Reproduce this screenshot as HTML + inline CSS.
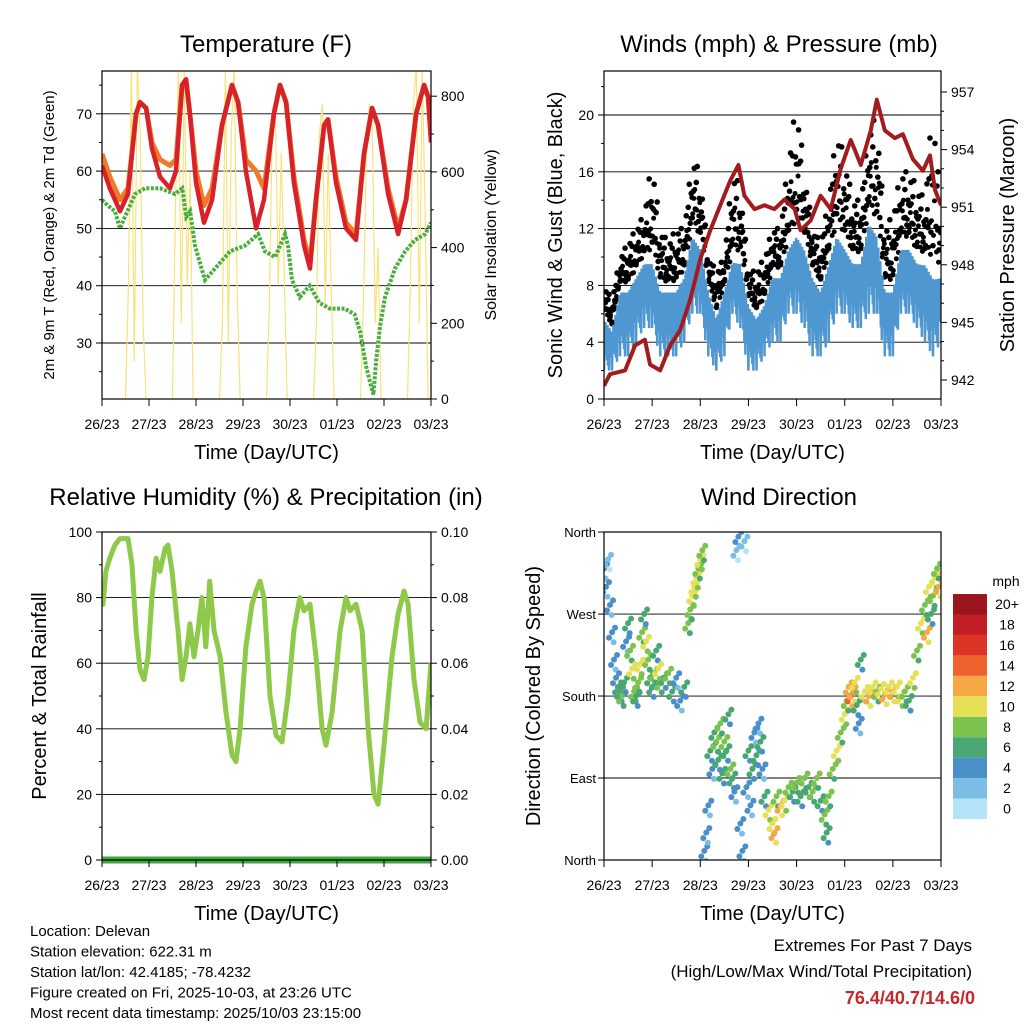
<!DOCTYPE html>
<html><head><meta charset="utf-8"><style>
body{margin:0;background:#fff;}
svg{display:block;font-family:"Liberation Sans",sans-serif;}
</style></head><body>
<svg id="c" width="1024" height="1024" viewBox="0 0 1024 1024"></svg>
<script>
// ---------- DATA ----------
const tempHours=[0,4,9.2,13.3,17.4,19.4,22.5,25.5,29.6,34.7,37.8,40.9,42.9,44.9,48,52.1,56.2,61.3,66.4,69.5,73.5,78.7,82.7,87.8,90.9,94,98,103.2,106.2,109.3,113.4,115.4,119.5,124.6,129.7,133.8,137.9,141,146.1,151.2,155.3,160.4,164.5,166.5,168];
const temp2m=[61,57,53,56,70,72,71,64,59,57,60,75,76,70,58,51,55,68,75,72,60,50,55,70,75,72,58,47,43,55,68,69,58,50,48,63,71,68,56,49,55,70,75,73,65];
const temp9m=[63,59,55,57,70,72,71,65,62,61,62,75,76,70,60,54,57,68,75,72,62,60,57,70,75,72,59,48,44,55,68,69,59,51,49,63,71,68,57,50,55,70,75,73,66];
const dewHours=[0,3,6.6,9.2,11.7,16.9,22,29.6,37.3,41,43,45,47.5,50,52.6,57.7,65.4,73,79.7,83.2,88.4,93.5,95,97,101,106,111,116.4,124,129,131.8,134.8,137,138.6,140,142,144.5,149.6,154.8,159.9,165,168];
const dewVals=[55,54,53,50,52,56,57,57,56,57,52,53,47,44,41,43,46,47,49,46,45,49,47,41,38,40,37,36,36,35,32,26,23,21,27,33,38,43,46,48,49,51];
const solarHourOffsets=[12,13.5,15,16.5,18,19.5,21,22.5];
const solarDays=[[0,300,880,100,880,700,200,0],[0,500,880,200,880,300,600,0],[0,200,880,150,700,880,300,0],[0,250,760,780,300,650,350,0],[0,200,700,780,250,650,300,0],[0,250,650,780,720,200,400,0],[0,300,780,880,200,880,500,0]];
const windHours=[0,4,8,12,16,20,24,28,32,36,40,44,48,52,56,60,64,68,72,76,80,84,88,92,96,100,104,108,112,116,120,124,128,132,136,140,144,148,152,156,160,164,168];
const windLo=[2,2,3,3,4,5,5,3,3,3,4,6,6,3,2,3,6,5,2,2,3,4,4,6,6,5,3,3,4,6,6,5,5,6,6,3,3,6,6,5,4,3,4];
const windHi=[6,5,8,8,9,10,10,8,8,8,9,12,11,8,6,8,10,10,7,6,7,9,9,11,12,11,9,8,10,12,11,10,10,13,12,8,8,11,11,10,10,9,9];
const gustHi=[8,7,10,11,12,13,17,12,11,12,12,17,16,10,9,10,16,15,9,9,10,12,12,17,21,16,12,11,14,19,17,14,14,19,20,12,13,16,16,15,14,21,13];
const presHours=[0,3,10.5,15.5,20.4,23,28,33,38,43,48,53,58,63,67,70,75,80,85,90,95,98,103,108,113,118,123,125,128,133,136,140,145,149,154,159,162.5,165,168];
const presVals=[941.7,942.3,942.5,943.8,944.1,942.8,942.5,943.8,944.6,946.2,948.3,949.8,951.1,952.4,953.2,951.6,950.9,951.1,950.9,951.4,950.9,949.8,950.3,951.6,950.9,953.0,954.5,954.0,953.2,955.0,956.6,955.0,954.6,954.8,953.5,952.9,953.7,951.9,951.1];
const rhHours=[0,0.5,2,4,6.6,9.2,13.3,15.3,17.4,19.4,21.5,23.5,25.5,27.6,29.6,32.2,33.7,35.8,38.8,40.9,42.9,44.9,47,49,51,53,55,57.2,60.3,63.3,66.4,68.4,70.5,73.5,76.6,78.7,80.7,82.7,85.8,88.9,91.9,95,98,101,103.2,106.2,109.3,112.4,114.4,117.5,121.6,124.6,126.7,129.7,132.8,135.9,138.9,141,144,148.1,151.2,154.2,156.3,159.3,162.4,165.5,168];
const rhVals=[80,78,88,92,96,98,98,90,70,58,55,62,80,92,88,95,96,88,70,55,62,72,62,70,80,65,85,70,62,45,32,30,40,65,78,82,85,80,50,38,36,50,70,80,76,78,62,40,35,45,70,80,76,78,70,40,20,17,35,62,75,82,78,55,42,40,60];
const precipVals=[0,0];
const wdHours=[0,1,2,3,4,5,6,7,8,9,10,11,12,13,14,15,16,17,18,19,20,21,22,23,24,25,26,27,28,30,32,34,36,38,40,42,43,44,45,46,47,48,49,50,51,52,53,54,55,56,57,58,59,60,61,62,63,64,65,66,67,68,69,70,71,72,73,74,75,76,77,78,79,80,82,84,85,86,88,90,92,94,96,98,100,102,104,106,108,110,111,112,114,116,118,120,121,122,123,124,125,126,127,128,130,132,134,136,138,140,142,144,146,148,150,152,154,156,158,160,161,162,163,164,165,166,167];
const wdDeg=[320,300,330,280,250,220,200,190,185,180,195,240,260,230,210,185,180,195,215,250,270,240,220,200,190,205,230,210,195,200,205,185,200,175,190,260,275,290,300,310,320,330,340,10,30,60,120,100,140,130,110,150,95,130,120,160,100,90,75,340,355,40,10,350,80,120,60,100,140,115,150,130,100,70,55,40,30,70,60,65,80,75,85,70,90,80,75,90,65,50,30,70,100,120,140,160,175,190,180,185,195,170,150,220,185,180,190,185,188,182,190,185,190,180,185,175,200,230,260,280,250,300,270,290,310,320,300];
const wdSpd=[4,4,2,4,4,4,4,6,6,8,6,4,6,8,10,8,6,8,10,8,6,10,8,6,6,8,6,10,8,6,8,6,4,4,6,8,8,10,10,10,8,10,8,4,4,4,6,4,6,8,6,8,6,8,6,6,8,6,4,2,4,4,4,2,4,6,4,6,4,6,4,6,4,6,10,10,12,8,12,10,8,6,8,6,8,6,8,8,6,8,6,8,8,10,8,10,8,12,14,12,10,6,4,6,10,12,10,8,10,12,10,12,10,10,8,6,10,8,10,8,12,10,6,8,10,8,12];
const cbLabels=["0","2","4","6","8","10","12","14","16","18","20+"];
const cbColors=["#b5e3f8","#7cbde6","#4a8fc7","#48a772","#7cc24f","#e6e057","#f7a846","#f0622d","#dd3427","#c11e25","#9a161c"];
const days=["26/23","27/23","28/23","29/23","30/23","01/23","02/23","03/23"];

// ---------- HELPERS ----------
const NS="http://www.w3.org/2000/svg";
const svg=document.getElementById('c');
function el(tag,attrs,parent){const e=document.createElementNS(NS,tag);for(const k in attrs)e.setAttribute(k,attrs[k]);(parent||svg).appendChild(e);return e;}
function txt(s,x,y,size,anchor,parent,extra){const t=el('text',Object.assign({x:x,y:y,'font-size':size,'text-anchor':anchor||'middle',fill:'#000'},extra||{}),parent);t.textContent=s;return t;}
function spdColor(s){let i=Math.round(s/2);if(i<0)i=0;if(i>10)i=10;return cbColors[i];}
function polyPts(xs,ys,fx,fy){return xs.map((h,i)=>fx(h).toFixed(1)+','+fy(ys[i]).toFixed(1)).join(' ');}

function panel(name,x0,x1,y0,y1){
  const g=el('g',{});
  
  
  const cp=el('clipPath',{id:'clip-'+name},g);
  el('rect',{x:x0,y:y0,width:x1-x0,height:y1-y0},cp);
  const plot=el('g',{'clip-path':'url(#clip-'+name+')'},g);
  
  
  return {g,plot};
}
function xAxis(g,x0,x1,yb,title){
  const ax=el('g',{},g);
  
  
  days.forEach((d,i)=>{const x=x0+i*(x1-x0)/7;
    el('line',{x1:x,x2:x,y1:yb,y2:yb+7,stroke:'#000','stroke-width':1},ax);
    const t=txt(d,x,yb+30,14,'middle',ax);
    
    
  });
  const tt=txt(title,(x0+x1)/2,yb+60,20,'middle',ax);
  
  
}
function frame(g,x0,x1,y0,y1){el('rect',{x:x0,y:y0,width:x1-x0,height:y1-y0,fill:'none',stroke:'#000','stroke-width':1.2},g);}
function gridY(g,x0,x1,ys){ys.forEach(y=>el('line',{x1:x0,x2:x1,y1:y,y2:y,stroke:'#000','stroke-width':0.9},g));}
function yTicks(g,x,side,vals,fy,fmt,minor){
  const ax=el('g',{},g);
  
  
  const d=side==='l'?-1:1;
  vals.forEach(v=>{const y=fy(v);
    el('line',{x1:x,x2:x+d*6,y1:y,y2:y,stroke:'#000'},ax);
    const t=txt(fmt(v),x+d*10,y+5,14,side==='l'?'end':'start',ax);
    
    
  });
  (minor||[]).forEach(v=>{const y=fy(v);el('line',{x1:x,x2:x+d*3,y1:y,y2:y,stroke:'#000'},ax);});
}
function vTitle(s,x,y,size,name){const t=txt(s,x,y,size,'middle',svg,{transform:'rotate(-90 '+x+' '+y+')'});}
function title(s,x,y,name){const t=txt(s,x,y,24,'middle');}

// ---------- PANEL 1: TEMPERATURE ----------
(function(){
  const X0=102,X1=431,Y0=71,Y1=399;
  const xT=h=>X0+h*(X1-X0)/168, yT=t=>343-(t-30)*5.73, yS=s=>399-s*0.3785;
  const {g,plot}=panel('temperature-panel',X0,X1,Y0,Y1);
  gridY(plot,X0,X1,[30,40,50,60,70].map(yT));
  solarDays.forEach((day,di)=>{
    const hs=solarHourOffsets.map(o=>di*24+o);
    const p=el('polyline',{points:polyPts(hs,day,xT,yS),fill:'none',stroke:'#f7e37a','stroke-width':1.2},plot);
    
    
  });
  let p=el('polyline',{points:polyPts(dewHours,dewVals,xT,yT),fill:'none',stroke:'#4aae3c','stroke-width':4,'stroke-dasharray':'3 1.5'},plot);
  
  
  p=el('polyline',{points:polyPts(tempHours,temp9m,xT,yT),fill:'none',stroke:'#f07a28','stroke-width':5,'stroke-linejoin':'round'},plot);
  
  
  p=el('polyline',{points:polyPts(tempHours,temp2m,xT,yT),fill:'none',stroke:'#d8222a','stroke-width':4.5,'stroke-linejoin':'round'},plot);
  
  
  frame(g,X0,X1,Y0,Y1);
  yTicks(g,X0,'l',[30,40,50,60,70],yT,v=>v,[25,35,45,55,65,75]);
  yTicks(g,X1,'r',[0,200,400,600,800],yS,v=>v,[100,300,500,700]);
  xAxis(g,X0,X1,Y1,'Time (Day/UTC)');
})();
title('Temperature (F)',266,52,'temperature-title');
vTitle('2m & 9m T (Red, Orange) & 2m Td (Green)',54,235,15,'temperature-y-axis-title');
vTitle('Solar Insolation (Yellow)',496,235,16,'solar-y-axis-title');

// ---------- PANEL 2: WINDS ----------
(function(){
  const X0=604,X1=941,Y0=71,Y1=399;
  const xW=h=>X0+h*(X1-X0)/168, yW=v=>399-v*14.2, yP=p=>380-(p-942)*19.2;
  const {g,plot}=panel('winds-panel',X0,X1,Y0,Y1);
  gridY(plot,X0,X1,[4,8,12,16,20].map(yW));
  const gg=el('g',{},plot);
  
  
  const fr=[0.15,0.55,0.9,0.35,0.75,1.0,0.25,0.6];
  for(let i=0;i<windHours.length-1;i++){
    for(let k=0;k<8;k++){
      const f=k/8, h=windHours[i]+f*4;
      const hi=windHi[i]+(windHi[i+1]-windHi[i])*f;
      const gu=gustHi[i]+(gustHi[i+1]-gustHi[i])*f;
      const v=hi+(gu-hi)*fr[k];
      el('circle',{cx:xW(h),cy:yW(v),r:2.8,fill:'#000'},gg);
      el('circle',{cx:xW(h+0.25),cy:yW(hi+(gu-hi)*fr[(k+3)%8]*0.6),r:2.5,fill:'#000'},gg);
    }
  }
  let pts=[];
  for(let i=0;i<windHours.length-1;i++){
    for(let k=0;k<16;k++){
      const f=k/16,h=windHours[i]+f*4;
      const lo=windLo[i]+(windLo[i+1]-windLo[i])*f, hi=windHi[i]+(windHi[i+1]-windHi[i])*f;
      const v=(k%2===0)?lo+(hi-lo)*((k*7)%5)/10:hi-(hi-lo)*((k*3)%4)/10;
      pts.push(xW(h).toFixed(1)+','+yW(v).toFixed(1));
    }
  }
  let p=el('polyline',{points:pts.join(' '),fill:'none',stroke:'#4e97d1','stroke-width':2.5},plot);
  
  
  p=el('polyline',{points:polyPts(presHours,presVals,xW,yP),fill:'none',stroke:'#a11c1e','stroke-width':4,'stroke-linejoin':'round'},plot);
  
  
  frame(g,X0,X1,Y0,Y1);
  yTicks(g,X0,'l',[0,4,8,12,16,20],yW,v=>v,[2,6,10,14,18,22]);
  yTicks(g,X1,'r',[942,945,948,951,954,957],yP,v=>v,[943,944,946,947,949,950,952,953,955,956]);
  xAxis(g,X0,X1,Y1,'Time (Day/UTC)');
})();
title('Winds (mph) & Pressure (mb)',779,52,'winds-title');
vTitle('Sonic Wind & Gust (Blue, Black)',562,235,20,'wind-y-axis-title');
vTitle('Station Pressure (Maroon)',1014,235,20,'pressure-y-axis-title');

// ---------- PANEL 3: RH ----------
(function(){
  const X0=102,X1=431,Y0=532,Y1=860;
  const xR=h=>X0+h*(X1-X0)/168, yR=r=>860-r*3.28, yPr=v=>860-v*3280;
  const {g,plot}=panel('humidity-panel',X0,X1,Y0,Y1);
  gridY(plot,X0,X1,[20,40,60,80].map(yR));
  let p=el('polyline',{points:polyPts(rhHours,rhVals,xR,yR),fill:'none',stroke:'#8ec94a','stroke-width':5,'stroke-linejoin':'round'},plot);
  
  
  p=el('polyline',{points:polyPts([0,168],precipVals,xR,yPr),fill:'none',stroke:'#3da63c','stroke-width':7},g);
  
  
  frame(g,X0,X1,Y0,Y1);
  yTicks(g,X0,'l',[0,20,40,60,80,100],yR,v=>v,[10,30,50,70,90]);
  yTicks(g,X1,'r',[0,0.02,0.04,0.06,0.08,0.1],yPr,v=>v.toFixed(2),[0.01,0.03,0.05,0.07,0.09]);
  xAxis(g,X0,X1,Y1,'Time (Day/UTC)');
})();
title('Relative Humidity (%) & Precipitation (in)',266,505,'humidity-title');
vTitle('Percent & Total Rainfall',46,696,20,'humidity-y-axis-title');

// ---------- PANEL 4: WIND DIRECTION ----------
(function(){
  const X0=604,X1=941,Y0=532,Y1=860;
  const xD=h=>X0+h*(X1-X0)/168, yD=d=>860-d*0.911;
  const {g,plot}=panel('wind-direction-panel',X0,X1,Y0,Y1);
  gridY(plot,X0,X1,[90,180,270].map(yD));
  const off=[[0,0],[-1.5,-6],[1.5,5],[0.8,-11]];
  wdHours.forEach((h,i)=>{
    off.forEach((o,k)=>{
      const c=el('circle',{cx:xD(h+o[0]),cy:yD(wdDeg[i]+o[1]),r:3,fill:spdColor(wdSpd[i]+(k===3?-2:0))},plot);
      
      
    });
  });
  frame(g,X0,X1,Y0,Y1);
  const ax=el('g',{},g);
  
  
  [['North',0],['East',90],['South',180],['West',270],['North',360]].forEach(a=>{
    const y=yD(a[1]);el('line',{x1:X0,x2:X0-6,y1:y,y2:y,stroke:'#000'},ax);
    txt(a[0],X0-8,y+5,13,'end',ax);
  });
  xAxis(g,X0,X1,Y1,'Time (Day/UTC)');
  const cb=el('g',{},svg);
  
  
  txt('mph',1006,586,14,'middle',cb);
  cbColors.forEach((c,i)=>{
    const y=819-(i+1)*20.45;
    el('rect',{x:953,y:y,width:34,height:20.45,fill:c},cb);
    txt(cbLabels[i],1007,y+15,14,'middle',cb);
  });
})();
title('Wind Direction',779,505,'wind-direction-title');
vTitle('Direction (Colored By Speed)',540,696,20,'direction-y-axis-title');

// ---------- FOOTER ----------
const info=["Location: Delevan","Station elevation: 622.31 m","Station lat/lon: 42.4185; -78.4232","Figure created on Fri, 2025-10-03, at 23:26 UTC","Most recent data timestamp: 2025/10/03 23:15:00"];
info.forEach((s,i)=>{const t=txt(s,30,936+i*20.5,15,'start');});
let t=txt('Extremes For Past 7 Days',972,951,17,'end');


t=txt('(High/Low/Max Wind/Total Precipitation)',972,977,17,'end');


t=txt('76.4/40.7/14.6/0',975,1004,18,'end',svg,{fill:'#c8262b','font-weight':'bold'});


</script>
</body></html>
